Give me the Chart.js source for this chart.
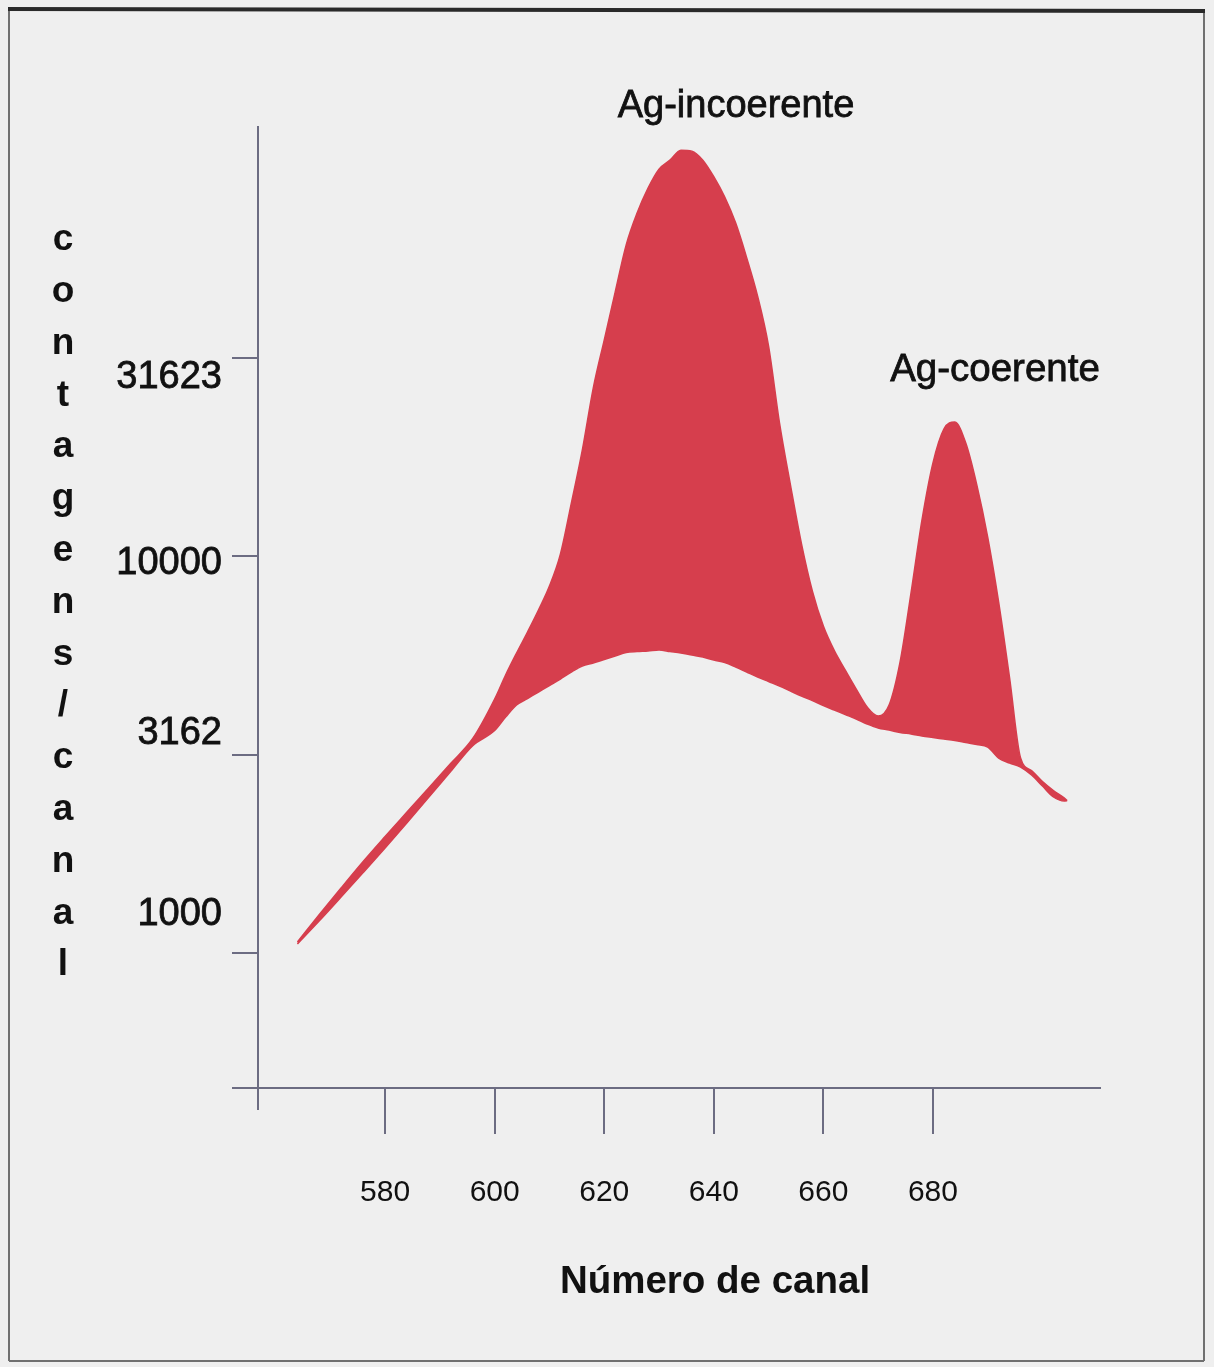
<!DOCTYPE html>
<html>
<head>
<meta charset="utf-8">
<script src="https://cdn.jsdelivr.net/npm/chart.js@4/dist/chart.umd.min.js"></script>
<style>
  html, body { margin: 0; padding: 0; background: #efefef; }
  #wrap { width: 1214px; height: 1367px; }
</style>
</head>
<body>
<div id="wrap"><canvas id="spectrum" width="1214" height="1367"></canvas></div>
<script>
// channel numbers (x)
const channels = [564, 568, 572, 576, 580, 584, 588, 592, 596,
  600, 602, 604, 606, 608, 610, 612, 614, 616, 618, 620, 622, 624, 626, 628, 630,
  632, 634, 636, 638, 640, 642, 644, 646, 648, 650, 652, 654, 656, 658, 660, 662,
  664, 666, 668, 670, 672, 674, 676, 678, 680, 682, 684, 686, 688, 690, 692, 694,
  696, 698, 700, 702, 704, 704.5];

// upper edge of the red area: total counts per channel
const totalCounts = [1066, 1250, 1460, 1700, 1965, 2265, 2610, 3005, 3470,
  4363, 5015, 5697, 6437, 7311, 8403, 10116, 13601, 18493, 26500, 35006, 46238, 60731, 73114, 84528, 94365,
  99424, 105360, 104760, 99424, 90320, 80240, 69000, 56480, 45180, 33810, 21630, 15095, 10752, 8161, 6664, 5780,
  5162, 4624, 4166, 3953, 4215, 5408, 8068, 12323, 17152, 20894, 21759, 19262, 15140, 11165, 7658, 4929,
  3098, 2882, 2704, 2567, 2457, 2420];

// lower edge of the red area: continuum under the peaks
const backgroundCounts = [1054, 1205, 1385, 1595, 1840, 2130, 2470, 2870, 3330,
  3635, 3930, 4215, 4377, 4545, 4720, 4901, 5103, 5283, 5377, 5487, 5599, 5713, 5746, 5763, 5797,
  5746, 5697, 5631, 5567, 5470, 5391, 5253, 5103, 4958, 4830, 4706, 4571, 4440, 4325, 4202, 4094,
  3988, 3886, 3775, 3688, 3645, 3593, 3562, 3521, 3490, 3460, 3430, 3390, 3351, 3303, 3098, 3010,
  2941, 2808, 2634, 2472, 2415, 2420];

const xTickValues = [580, 600, 620, 640, 660, 680];
const yTickValues = [1000, 3162, 10000, 31623];
const yTickLabels = ['1000', '3162', '10000', '31623'];

const yTitle = 'contagens/canal';
const xTitle = 'Número de canal';
const peakLabels = ['Ag-incoerente', 'Ag-coerente'];

const RED = '#d63e4d';
const AXIS = '#6c6c82';
const INK = '#111';
const FONT = '"Liberation Sans", Arial, sans-serif';

Chart.defaults.font.family = FONT;

// scanned print looks heavier than plain regular text
function inkText(c, txt, x, y) {
  c.fillText(txt, x, y);
  c.strokeText(txt, x, y);
}

const decor = {
  id: 'decor',
  beforeDraw(chart) {
    const c = chart.ctx;
    c.save();
    c.fillStyle = '#efefef';
    c.fillRect(0, 0, chart.width, chart.height);
    // scanned page frame
    c.strokeStyle = '#707070';
    c.lineWidth = 2;
    c.beginPath();
    c.moveTo(9, 10); c.lineTo(9, 1361);
    c.moveTo(1204, 12); c.lineTo(1204, 1361);
    c.moveTo(9, 1361); c.lineTo(1204, 1361);
    c.stroke();
    c.strokeStyle = '#2a2a2a';
    c.lineWidth = 4;
    c.beginPath();
    c.moveTo(8, 9); c.lineTo(1205, 11);
    c.stroke();
    c.restore();
  },
  afterDraw(chart) {
    const c = chart.ctx;
    const { y } = chart.scales;
    const area = chart.chartArea;
    c.save();
    // axis lines run a bit past the origin
    c.strokeStyle = AXIS;
    c.lineWidth = 2;
    c.beginPath();
    c.moveTo(area.left - 26, area.bottom); c.lineTo(area.left, area.bottom);
    c.moveTo(area.left, area.bottom); c.lineTo(area.left, area.bottom + 22);
    c.stroke();

    c.fillStyle = INK;
    c.strokeStyle = INK;
    c.lineWidth = 0.8;
    // y tick labels, nudged like the scan
    const nudge = [-38, -21, 7, 20];
    c.font = '38px ' + FONT;
    c.textAlign = 'right';
    c.textBaseline = 'middle';
    yTickValues.forEach((v, i) => {
      inkText(c, yTickLabels[i], 222, y.getPixelForValue(v) + nudge[i]);
    });

    // stacked y title
    c.font = 'bold 37px ' + FONT;
    c.textAlign = 'center';
    yTitle.split('').forEach((ch, i) => {
      c.fillText(ch, 63, 240 + i * 51.8);
    });

    // peak names
    c.font = '38px ' + FONT;
    inkText(c, peakLabels[0], 736, 107);
    c.font = '38.5px ' + FONT;
    inkText(c, peakLabels[1], 995, 370);

    // x title
    c.font = 'bold 38.5px ' + FONT;
    c.fillText(xTitle, 715, 1282);
    c.restore();
  }
};

new Chart(document.getElementById('spectrum'), {
  type: 'line',
  data: {
    datasets: [{
      label: 'total',
      data: channels.map((ch, i) => ({ x: ch, y: totalCounts[i] })),
      borderColor: RED,
      backgroundColor: RED,
      borderWidth: 1.5,
      pointRadius: 0,
      cubicInterpolationMode: 'monotone',
      fill: '+1'
    }, {
      label: 'fundo',
      data: channels.map((ch, i) => ({ x: ch, y: backgroundCounts[i] })),
      borderColor: RED,
      borderWidth: 1.5,
      pointRadius: 0,
      cubicInterpolationMode: 'monotone',
      fill: false
    }]
  },
  options: {
    responsive: false,
    animation: false,
    layout: { padding: { left: 0, right: 114, top: 127, bottom: 0 } },
    plugins: { legend: { display: false }, tooltip: { enabled: false } },
    scales: {
      x: {
        type: 'linear',
        min: 556.8,
        max: 710.5,
        afterBuildTicks: axis => { axis.ticks = xTickValues.map(v => ({ value: v })); },
        afterFit: axis => { axis.height = 279; },
        grid: { drawOnChartArea: false, tickLength: 46, color: AXIS, lineWidth: 2 },
        border: { color: AXIS, width: 2 },
        ticks: { color: INK, font: { size: 30 }, padding: 41, maxRotation: 0 }
      },
      y: {
        type: 'logarithmic',
        min: 457,
        max: 120500,
        afterBuildTicks: axis => { axis.ticks = yTickValues.map(v => ({ value: v })); },
        afterFit: axis => { axis.width = 258; },
        grid: { drawOnChartArea: false, tickLength: 26, color: AXIS, lineWidth: 2 },
        border: { color: AXIS, width: 2 },
        ticks: { display: false }
      }
    }
  },
  plugins: [decor]
});
</script>
</body>
</html>
